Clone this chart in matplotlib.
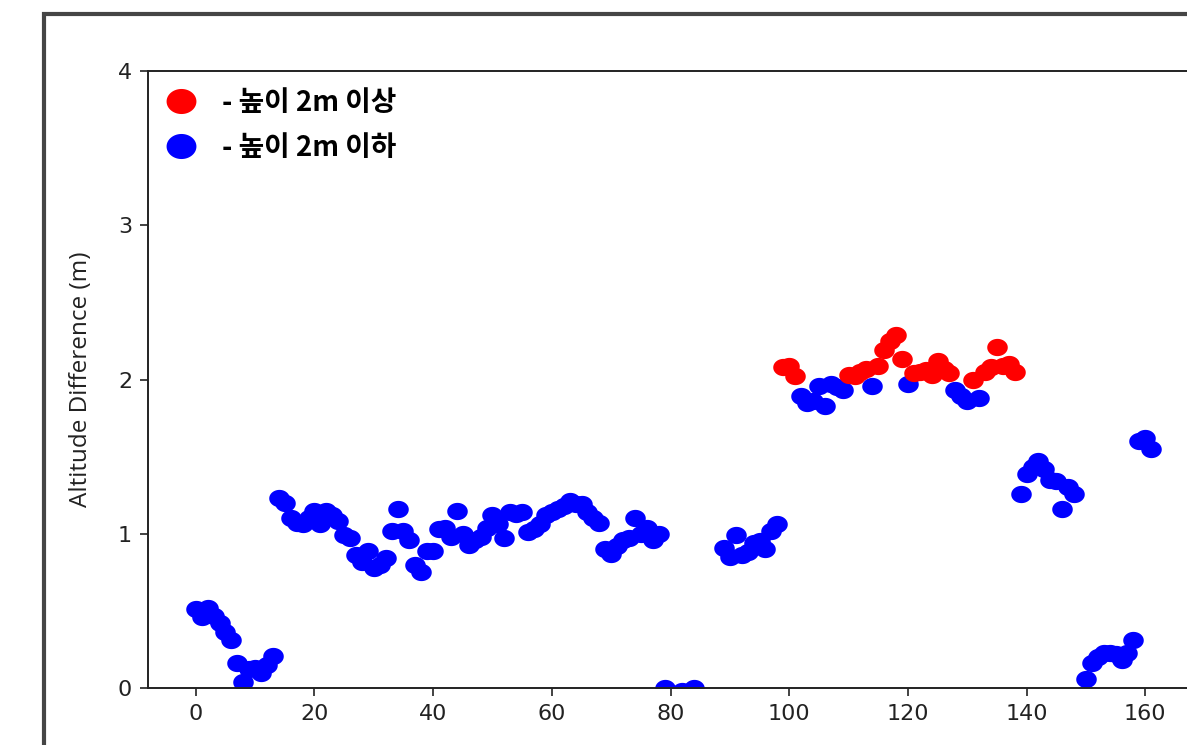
import matplotlib
matplotlib.use("Agg")
import matplotlib.pyplot as plt
import numpy as np
from matplotlib.path import Path
from matplotlib.lines import Line2D
from matplotlib.patches import Rectangle

# ---- data ----
index = [0, 1, 2, 3, 4, 5, 6, 7, 8, 9, 10, 11, 12, 13,
         14, 15, 16, 17, 18, 19, 20, 21, 22, 23, 24, 25, 26, 27, 28, 29,
         30, 31, 32, 33, 34, 35, 36, 37, 38, 39, 40, 41, 42, 43, 44, 45,
         46, 47, 48, 49, 50, 51, 52, 53, 54, 55, 56, 57, 58, 59, 60, 61,
         62, 63, 64, 65, 66, 67, 68, 69, 70, 71, 72, 73, 74, 75, 76, 77, 78,
         79, 82, 84,
         89, 90, 91, 92, 93, 94, 95, 96, 97, 98,
         99, 100, 101, 102, 103, 104, 105, 106, 107, 108, 109, 110, 111, 112,
         113, 114, 115, 116, 117, 118, 119, 120, 121, 122, 123, 124, 125, 126,
         127, 128, 129, 130, 131, 132, 133, 134, 135, 136, 137, 138,
         139, 140, 141, 142, 143, 144, 145, 146, 147, 148,
         150, 151, 152, 153, 154, 155, 156, 157, 158, 159, 160, 161]
altitude_diff = [0.51, 0.46, 0.52, 0.47, 0.42, 0.36, 0.31, 0.16, 0.04, 0.12, 0.13, 0.10, 0.15, 0.21,
                 1.23, 1.20, 1.10, 1.07, 1.06, 1.10, 1.15, 1.06, 1.15, 1.12, 1.08, 0.99, 0.97, 0.86, 0.82, 0.89,
                 0.78, 0.80, 0.84, 1.02, 1.16, 1.02, 0.96, 0.80, 0.75, 0.89, 0.89, 1.03, 1.04, 0.98, 1.15, 1.00,
                 0.93, 0.96, 0.98, 1.04, 1.12, 1.06, 0.97, 1.14, 1.13, 1.14, 1.01, 1.03, 1.06, 1.12, 1.14, 1.16,
                 1.18, 1.21, 1.19, 1.19, 1.14, 1.10, 1.07, 0.90, 0.87, 0.92, 0.96, 0.97, 1.10, 1.00, 1.04, 0.96, 1.00,
                 0.00, -0.02, 0.00,
                 0.91, 0.85, 0.99, 0.86, 0.88, 0.94, 0.95, 0.90, 1.02, 1.06,
                 2.08, 2.09, 2.02, 1.89, 1.85, 1.86, 1.96, 1.83, 1.97, 1.95, 1.93, 2.03, 2.02, 2.05,
                 2.07, 1.96, 2.09, 2.19, 2.25, 2.29, 2.13, 1.97, 2.04, 2.05, 2.06, 2.03, 2.12, 2.07,
                 2.04, 1.93, 1.89, 1.86, 2.00, 1.88, 2.05, 2.08, 2.21, 2.09, 2.10, 2.05,
                 1.26, 1.39, 1.43, 1.47, 1.42, 1.35, 1.34, 1.16, 1.30, 1.26,
                 0.06, 0.16, 0.20, 0.23, 0.23, 0.22, 0.18, 0.23, 0.31, 1.60, 1.62, 1.55]
threshold = 2.0
legend_labels = ["- 높이 2m 이상", "- 높이 2m 이하"]
x_ticks = [0, 20, 40, 60, 80, 100, 120, 140, 160]
y_ticks = [0, 1, 2, 3, 4]

x = np.array(index)
y = np.array(altitude_diff)
high = y >= threshold

# ellipse marker (the reference is slightly stretched horizontally)
t = np.linspace(0, 2 * np.pi, 60)
ell = Path(np.column_stack([np.cos(t), 0.84 * np.sin(t)]), closed=True)

W, H = 1187, 745
fig = plt.figure(figsize=(W / 100, H / 100), dpi=100)
fig.patch.set_facecolor("white")

# outer screenshot frame
fig.add_artist(Rectangle((43.7 / W, -0.2), 1.5, 1 - 13.5 / H + 0.2,
                         transform=fig.transFigure, fill=False,
                         edgecolor="#454545", linewidth=3.0, clip_on=False))

left, right = 148 / W, 1199 / W
bottom, top = 1 - 688 / H, 1 - 71 / H
ax = fig.add_axes([left, bottom, right - left, top - bottom])

ax.plot(x[~high], y[~high], linestyle="none", marker=ell, markersize=14.8,
        markeredgewidth=0, color="#0000ff")
ax.plot(x[high], y[high], linestyle="none", marker=ell, markersize=14.8,
        markeredgewidth=0, color="#ff0000")

ax.set_xlim(-8.05, 169.05)
ax.set_ylim(0, 4)
ax.set_xticks(x_ticks)
ax.set_yticks(y_ticks)
ax.tick_params(axis="both", labelsize=16, length=5.5, width=1.2, pad=6,
               colors="#222222")
for s in ax.spines.values():
    s.set_linewidth(1.4)
    s.set_color("#222222")

ax.set_ylabel("Altitude Difference (m)", family="Open Sans", fontsize=17.5,
              color="#222222")
ax.yaxis.set_label_coords((93 - 148) / (1199 - 148), 0.5)

handles = [Line2D([], [], linestyle="none", marker=ell, markersize=21.5,
                  markeredgewidth=0, color="#ff0000"),
           Line2D([], [], linestyle="none", marker=ell, markersize=21.5,
                  markeredgewidth=0, color="#0000ff")]
ax.legend(handles, legend_labels, loc="upper left",
          bbox_to_anchor=((164 - 148) / 1051, (688 - 89) / 617),
          frameon=False, borderpad=0, borderaxespad=0, handlelength=1.2,
          handletextpad=0.88, labelspacing=0.6,
          prop={"family": ["Noto Sans CJK KR", "DejaVu Sans"],
                "weight": "bold", "size": 20})

fig.savefig("out.png", dpi=100, facecolor="white")
